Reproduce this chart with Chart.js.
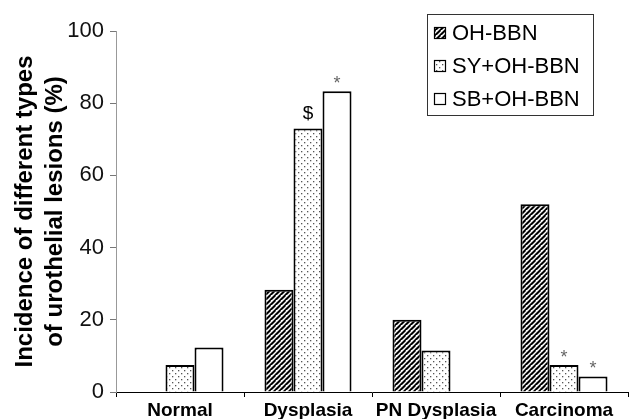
<!DOCTYPE html>
<html>
<head>
<meta charset="utf-8">
<script src="https://cdn.jsdelivr.net/npm/chart.js@4/dist/chart.umd.min.js"></script>
<style>
  html, body { margin: 0; padding: 0; background: #fff; }
  #wrap { width: 633px; height: 419px; position: relative; }
</style>
</head>
<body>
<div id="wrap"><canvas id="c" width="633" height="419"></canvas></div>
<script>
const categories = ['Normal', 'Dysplasia', 'PN Dysplasia', 'Carcinoma'];
const seriesNames = ['OH-BBN', 'SY+OH-BBN', 'SB+OH-BBN'];
const ohBbn   = [0, 28.3, 20.0, 52.0];
const syOhBbn = [7.5, 73.0, 11.5, 7.5];
const sbOhBbn = [12.3, 83.3, 0, 4.3];
const ohMarks = ['', '', '', ''];
const syMarks = ['', '$', '', '*'];
const sbMarks = ['', '*', '', '*'];
const yTicks  = [0, 20, 40, 60, 80, 100];
const yTitle  = ['Incidence of different types', 'of urothelial lesions (%)'];

const FONT = '"Liberation Sans", Arial, Helvetica, sans-serif';

function makeHatch() {
  const s = 5, c = document.createElement('canvas');
  c.width = s; c.height = s;
  const g = c.getContext('2d');
  g.fillStyle = '#fff'; g.fillRect(0, 0, s, s);
  g.strokeStyle = '#000'; g.lineWidth = 2;
  for (let k = -1; k <= 1; k++) {
    g.beginPath();
    g.moveTo(k * s, s + 0.5);
    g.lineTo(k * s + s + 0.5, 0);
    g.stroke();
  }
  return g.createPattern(c, 'repeat');
}
function makeDots() {
  const s = 6, c = document.createElement('canvas');
  c.width = s; c.height = s;
  const g = c.getContext('2d');
  g.fillStyle = '#fff'; g.fillRect(0, 0, s, s);
  g.fillStyle = '#555';
  g.fillRect(1, 1, 1.3, 1.3);
  g.fillRect(4, 4, 1.3, 1.3);
  return g.createPattern(c, 'repeat');
}
const ctx = document.getElementById('c').getContext('2d');
const fills = [makeHatch(), makeDots(), '#ffffff'];
const allMarks = [ohMarks, syMarks, sbMarks];

const marksPlugin = {
  id: 'marks',
  afterDatasetsDraw(chart) {
    const g = chart.ctx;
    chart.data.datasets.forEach((ds, i) => {
      const meta = chart.getDatasetMeta(i);
      allMarks[i].forEach((m, j) => {
        if (!m) return;
        const el = meta.data[j];
        g.save();
        g.textAlign = 'center';
        g.textBaseline = 'alphabetic';
        if (m === '$') {
          g.font = '19px ' + FONT;
          g.fillStyle = '#000';
          g.fillText(m, el.x, el.y - 9);
        } else {
          g.font = '18px ' + FONT;
          g.fillStyle = '#666';
          g.fillText(m, el.x, el.y - 2);
        }
        g.restore();
      });
    });
  }
};

const legendPlugin = {
  id: 'boxLegend',
  afterDraw(chart) {
    const g = chart.ctx;
    const bx = 427.5, by = 14.5, bw = 166, bh = 101;
    g.save();
    g.strokeStyle = '#333'; g.lineWidth = 1;
    g.strokeRect(bx, by, bw, bh);
    g.font = '22px ' + FONT;
    g.textBaseline = 'middle';
    g.textAlign = 'left';
    chart.data.datasets.forEach((ds, i) => {
      const cy = 33 + i * 33;
      g.fillStyle = ds.backgroundColor;
      g.fillRect(434, cy - 6, 12, 12);
      g.strokeStyle = '#000'; g.lineWidth = 1.2;
      g.strokeRect(434.5, cy - 5.5, 11, 11);
      g.fillStyle = '#000';
      g.fillText(ds.label, 452, cy + 1);
    });
    g.restore();
  }
};

new Chart(ctx, {
  type: 'bar',
  data: {
    labels: categories,
    datasets: [
      { label: seriesNames[0], data: ohBbn,   backgroundColor: fills[0] },
      { label: seriesNames[1], data: syOhBbn, backgroundColor: fills[1] },
      { label: seriesNames[2], data: sbOhBbn, backgroundColor: fills[2] }
    ].map(d => Object.assign(d, { borderColor: '#000', borderWidth: 2, borderSkipped: 'bottom' }))
  },
  plugins: [marksPlugin, legendPlugin],
  options: {
    responsive: false,
    animation: false,
    devicePixelRatio: 1,
    layout: { padding: { top: 31, right: 5, bottom: 0, left: 0 } },
    datasets: { bar: { categoryPercentage: 0.68, barPercentage: 1.0 } },
    plugins: { legend: { display: false }, tooltip: { enabled: false } },
    scales: {
      x: {
        offset: true,
        grid: { display: true, drawOnChartArea: false, drawTicks: true, tickLength: 5, color: '#000', offset: true },
        border: { display: true, color: '#000', width: 1 },
        ticks: { font: { family: FONT, size: 19, weight: 'bold' }, color: '#000', padding: 2, maxRotation: 0, autoSkip: false },
        afterFit(s) { s.height = 27; }
      },
      y: {
        min: 0, max: 100,
        afterBuildTicks(s) { s.ticks = yTicks.map(v => ({ value: v })); },
        grid: { display: true, drawOnChartArea: false, drawTicks: true, tickLength: 6, color: '#777' },
        border: { display: true, color: '#999', width: 1 },
        ticks: { font: { family: FONT, size: 22 }, color: '#111', padding: 6 },
        title: {
          display: true, text: yTitle,
          font: { family: FONT, size: 24, weight: 'bold', lineHeight: 1.25 },
          color: '#000', padding: { top: 10, bottom: 0 }
        },
        afterFit(s) { s.width = 116; }
      }
    }
  }
});
</script>
</body>
</html>
